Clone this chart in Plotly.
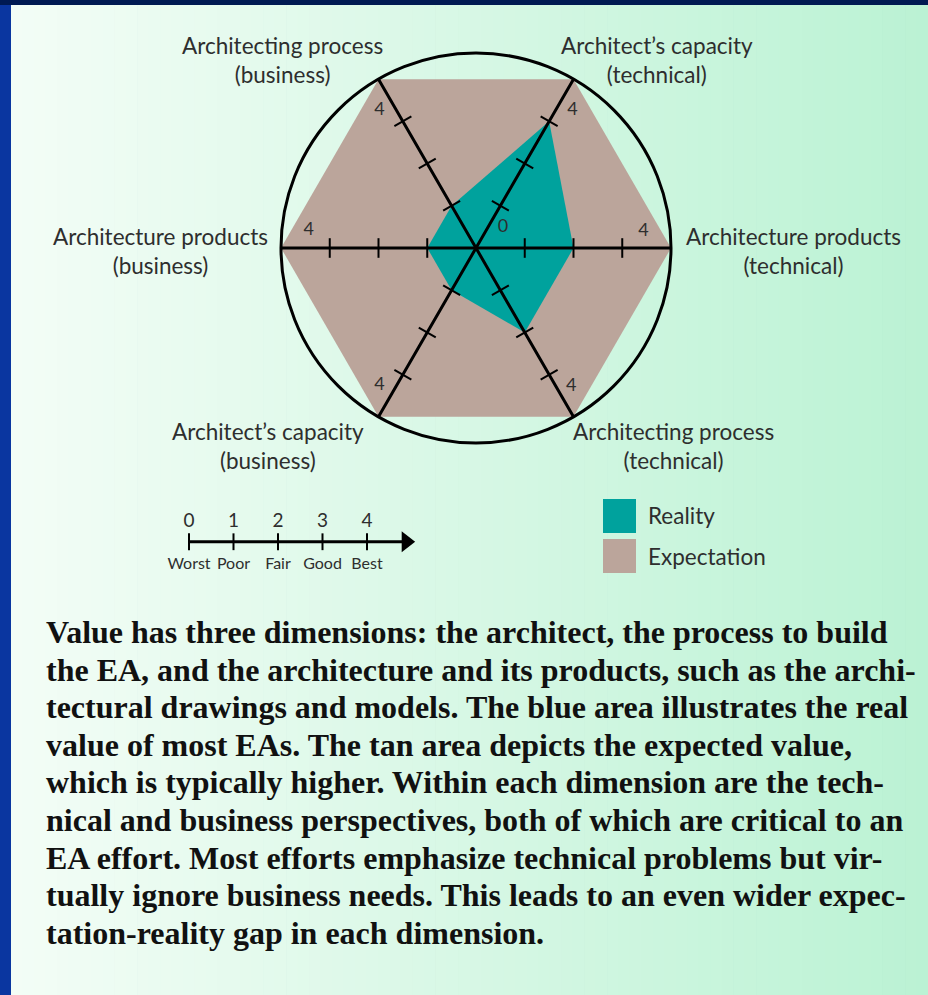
import plotly.graph_objects as go

W, H = 928, 995

# ---------------- data ----------------
axis_angles = [0, 60, 120, 180, 240, 300]
axis_labels = [
    "Architecture products<br>(technical)",
    "Architect’s capacity<br>(technical)",
    "Architecting process<br>(business)",
    "Architecture products<br>(business)",
    "Architect’s capacity<br>(business)",
    "Architecting process<br>(technical)",
]
expectation = [4, 4, 4, 4, 4, 4]
reality = [2, 3, 1, 1, 1, 2]
tick_values = [1, 2, 3]
r_max = 4

scale_values = [0, 1, 2, 3, 4]
scale_words = ["Worst", "Poor", "Fair", "Good", "Best"]

paragraph_lines = [
    "Value has three dimensions: the architect, the process to build",
    "the EA, and the architecture and its products, such as the archi-",
    "tectural drawings and models. The blue area illustrates the real",
    "value of most EAs. The tan area depicts the expected value,",
    "which is typically higher. Within each dimension are the tech-",
    "nical and business perspectives, both of which are critical to an",
    "EA effort. Most efforts emphasize technical problems but vir-",
    "tually ignore business needs. This leads to an even wider expec-",
    "tation-reality gap in each dimension.",
]

TEAL = "#00a29d"
TAN = "#bba59b"
LABEL = "#2e2e2e"
SANS = "Lato, 'Open Sans', sans-serif"


def px(x):
    return x / W


def py(y):
    return (H - y) / H


# polar placement: center (476, 248), radius 195 px
cx, cy, R = 476, 248, 195

fig = go.Figure()

# expectation
fig.add_trace(go.Scatterpolar(
    r=expectation, theta=axis_angles, fill="toself", mode="lines",
    line=dict(width=0, color=TAN), fillcolor=TAN, name="Expectation",
    showlegend=False, hoverinfo="skip"))
# reality
fig.add_trace(go.Scatterpolar(
    r=reality, theta=axis_angles, fill="toself", mode="lines",
    line=dict(width=0, color=TEAL), fillcolor=TEAL, name="Reality",
    showlegend=False, hoverinfo="skip"))

# axis lines through the centre
for a in axis_angles[:3]:
    fig.add_trace(go.Scatterpolar(
        r=[r_max, 0, r_max], theta=[a, a, a + 180], mode="lines",
        line=dict(color="black", width=3), showlegend=False, hoverinfo="skip"))

# tick marks on every half axis
tr, tt, ta = [], [], []
for a in axis_angles:
    for v in tick_values:
        tr.append(v)
        tt.append(a)
        ta.append(-a)
fig.add_trace(go.Scatterpolar(
    r=tr, theta=tt, mode="markers",
    marker=dict(symbol="line-ns", size=14, angle=ta,
                line=dict(color="black", width=2)),
    showlegend=False, hoverinfo="skip", cliponaxis=False))

# "4" labels near the axis ends and the "0" at the centre
offsets = [5.5, -5, 5, -6, -5, 4.5]
fig.add_trace(go.Scatterpolar(
    r=[3.45] * 6 + [0.69],
    theta=[a + o for a, o in zip(axis_angles, offsets)] + [36.5],
    mode="text", text=[str(r_max)] * 6 + ["0"],
    textfont=dict(family=SANS, size=18, color=LABEL),
    showlegend=False, hoverinfo="skip", cliponaxis=False))

fig.update_layout(
    polar=dict(
        domain=dict(x=[px(cx - R), px(cx + R)], y=[py(cy + R), py(cy - R)]),
        bgcolor="rgba(0,0,0,0)",
        radialaxis=dict(range=[0, r_max], visible=False),
        angularaxis=dict(rotation=0, direction="counterclockwise",
                         showline=True, linecolor="black", linewidth=3,
                         showgrid=False, ticks="", showticklabels=False),
    )
)

# ---------------- scale bar (cartesian) ----------------
unit = 44.5
x0px = 189
dom_l, dom_r = 160, 430
fig.add_trace(go.Scatter(
    x=[scale_values[0], 4.88], y=[0, 0], mode="lines",
    line=dict(color="black", width=3), xaxis="x", yaxis="y",
    showlegend=False, hoverinfo="skip"))
fig.add_trace(go.Scatter(
    x=[4.88], y=[0], mode="markers",
    marker=dict(symbol="triangle-right", size=18, color="black"),
    xaxis="x", yaxis="y", showlegend=False, hoverinfo="skip", cliponaxis=False))
fig.add_trace(go.Scatter(
    x=scale_values, y=[0] * len(scale_values), mode="markers",
    marker=dict(symbol="line-ns", size=12, line=dict(color="black", width=2)),
    xaxis="x", yaxis="y", showlegend=False, hoverinfo="skip", cliponaxis=False))
fig.add_trace(go.Scatter(
    x=scale_values, y=[0.53] * len(scale_values), mode="text",
    text=[str(v) for v in scale_values],
    textfont=dict(family=SANS, size=19, color=LABEL),
    xaxis="x", yaxis="y", showlegend=False, hoverinfo="skip", cliponaxis=False))
fig.add_trace(go.Scatter(
    x=scale_values, y=[-0.62] * len(scale_values), mode="text",
    text=scale_words,
    textfont=dict(family=SANS, size=16, color=LABEL),
    xaxis="x", yaxis="y", showlegend=False, hoverinfo="skip", cliponaxis=False))

fig.update_layout(
    xaxis=dict(domain=[px(dom_l), px(dom_r)],
               range=[(dom_l - x0px) / unit, (dom_r - x0px) / unit],
               visible=False, fixedrange=True),
    yaxis=dict(domain=[py(580), py(505)], range=[-1.02, 0.98],
               visible=False, fixedrange=True),
)

# ---------------- background ----------------
shapes = []
c0 = (243, 253, 246)
c1 = (187, 242, 212)
n = 80
x_start, x_end = 11, W
for i in range(n):
    t = i / (n - 1)
    col = "rgb(%d,%d,%d)" % tuple(round(c0[k] + (c1[k] - c0[k]) * t) for k in range(3))
    xa = x_start + (x_end - x_start) * i / n
    xb = x_start + (x_end - x_start) * (i + 1) / n + 0.8
    shapes.append(dict(type="rect", xref="paper", yref="paper",
                       x0=px(xa), x1=px(min(xb, W)), y0=0, y1=py(5),
                       fillcolor=col, line=dict(width=0), layer="below"))
shapes.append(dict(type="rect", xref="paper", yref="paper",
                   x0=0, x1=px(11), y0=0, y1=py(5),
                   fillcolor="#0a36a0", line=dict(width=0), layer="below"))

# legend squares
shapes.append(dict(type="rect", xref="paper", yref="paper",
                   x0=px(603), x1=px(636), y0=py(533), y1=py(499),
                   fillcolor=TEAL, line=dict(width=0)))
shapes.append(dict(type="rect", xref="paper", yref="paper",
                   x0=px(603), x1=px(636), y0=py(573), y1=py(539),
                   fillcolor=TAN, line=dict(width=0)))

annotations = []
# axis-end labels
label_pos = {
    0: (793, 251),
    60: (657, 60),
    120: (282, 60),
    180: (160, 251),
    240: (268, 446),
    300: (673, 446),
}
for a, txt in zip(axis_angles, axis_labels):
    x, y = label_pos[a]
    annotations.append(dict(text=txt, x=px(x), y=py(y), xref="paper", yref="paper",
                            showarrow=False, xanchor="center", yanchor="middle",
                            align="center",
                            font=dict(family=SANS, size=22.5, color=LABEL)))

annotations.append(dict(text="Reality", x=px(646), y=py(516), xref="paper", yref="paper",
                        showarrow=False, xanchor="left", yanchor="middle",
                        font=dict(family=SANS, size=22.5, color=LABEL)))
annotations.append(dict(text="Expectation", x=px(646), y=py(556), xref="paper", yref="paper",
                        showarrow=False, xanchor="left", yanchor="middle",
                        font=dict(family=SANS, size=22.5, color=LABEL)))

# paragraph
y_first, dy = 632, 37.6
for i, line in enumerate(paragraph_lines):
    annotations.append(dict(text=line, x=px(44), y=py(y_first + i * dy),
                            xref="paper", yref="paper", showarrow=False,
                            xanchor="left", yanchor="middle",
                            font=dict(family="'Liberation Serif', 'Times New Roman', serif",
                                      size=32, color="#111111", weight="bold")))

fig.update_layout(
    width=W, height=H,
    margin=dict(l=0, r=0, t=0, b=0),
    paper_bgcolor="#001a52",
    plot_bgcolor="rgba(0,0,0,0)",
    shapes=shapes,
    annotations=annotations,
    showlegend=False,
)

fig.write_html(
    "out.html",
    config={"displayModeBar": False},
    post_script="document.body.style.margin='0';document.body.style.padding='0';"
                "document.body.style.background='#001a52';",
)
